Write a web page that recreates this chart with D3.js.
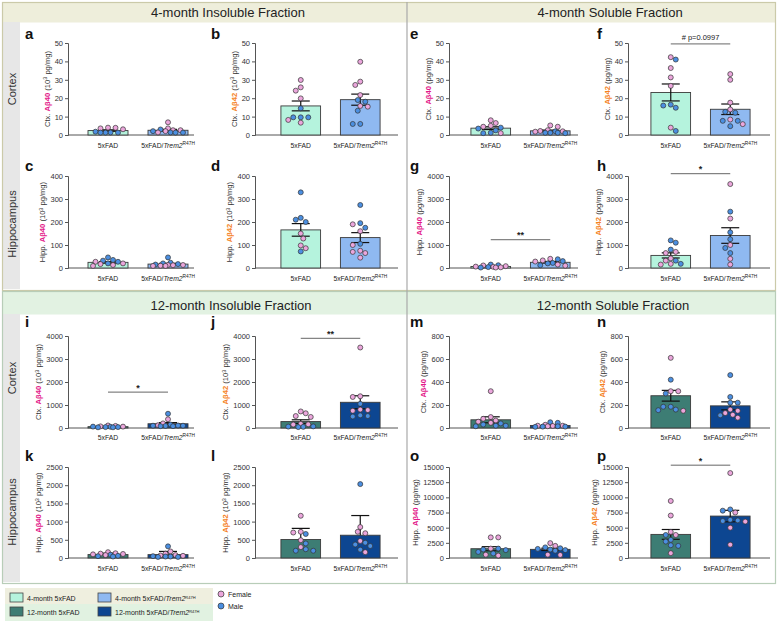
<!DOCTYPE html>
<html>
<head>
<meta charset="utf-8">
<script src="https://cdn.jsdelivr.net/npm/d3@7"></script>
<style>
  body { margin: 0; background: #fff; }
  svg { display: block; font-family: "Liberation Sans", Arial, sans-serif; }
</style>
</head>
<body>
<svg id="fig" width="778" height="621"></svg>
<script>
// ---- categories / ticks ----
var groups = ["5xFAD", "5xFAD/Trem2R47H"];
var ticks50 = [0, 10, 20, 30, 40, 50];
var ticks400 = [0, 100, 200, 300, 400];
var ticks4000 = [0, 1000, 2000, 3000, 4000];
var ticks800 = [0, 200, 400, 600, 800];
var ticks2500 = [0, 500, 1000, 1500, 2000, 2500];
var ticks15000 = [0, 2500, 5000, 7500, 10000, 12500, 15000];

// ---- per-animal values [value, sex] ----
var a5x = [[4.0,"F"],[3.1,"F"],[1.3,"M"],[1.4,"M"],[1.8,"M"],[1.3,"M"],[3.6,"F"],[3.9,"F"],[1.3,"M"]];
var aTr = [[3.6,"F"],[2.6,"F"],[1.4,"F"],[1.3,"M"],[2.1,"M"],[6.9,"F"],[3.0,"M"],[2.1,"F"],[1.4,"M"],[2.6,"F"],[1.3,"M"]];
var b5x = [[29.9,"F"],[25.9,"F"],[24.1,"F"],[19.9,"F"],[14.5,"M"],[9.6,"M"],[6.7,"F"],[9.6,"M"],[8.2,"F"],[9.6,"M"]];
var bTr = [[39.8,"F"],[29.0,"F"],[27.2,"F"],[21.7,"F"],[19.0,"M"],[18.1,"M"],[15.8,"F"],[13.2,"M"],[15.4,"F"],[6.0,"M"],[6.0,"M"]];
var c5x = [[46,"M"],[20,"M"],[32,"M"],[35,"M"],[13,"F"],[20,"F"],[27,"M"],[9,"F"],[27,"F"],[17,"F"]];
var cTr = [[13,"F"],[23,"M"],[12,"F"],[17,"M"],[46,"M"],[9,"F"],[20,"M"],[13,"F"],[9,"F"],[10,"F"],[15,"M"]];
var d5x = [[329,"M"],[218,"M"],[210,"M"],[200,"M"],[150,"F"],[128,"F"],[98,"F"],[86,"F"],[72,"M"]];
var dTr = [[274,"M"],[190,"F"],[195,"M"],[175,"M"],[160,"F"],[105,"M"],[75,"F"],[70,"F"],[65,"F"],[45,"F"],[100,"F"]];
var e5x = [[5.0,"F"],[8.0,"F"],[6.5,"F"],[3.5,"M"],[1.0,"M"],[4.5,"F"],[4.0,"M"],[1.0,"F"],[1.2,"M"],[2.5,"M"]];
var eTr = [[2.2,"F"],[2.6,"F"],[1.2,"M"],[1.2,"M"],[2.0,"F"],[4.5,"F"],[5.2,"F"],[2.0,"M"],[1.2,"M"],[1.8,"F"],[1.0,"M"]];
var f5x = [[42.3,"F"],[41.0,"M"],[36.4,"F"],[31.3,"F"],[26.7,"F"],[16.0,"M"],[16.5,"M"],[14.8,"M"],[4.0,"F"],[2.2,"M"]];
var fTr = [[33.1,"F"],[30.0,"F"],[17.6,"F"],[13.9,"F"],[12.6,"M"],[12.1,"M"],[8.4,"F"],[7.7,"M"],[7.7,"M"],[5.9,"F"],[4.8,"M"]];
var g5x = [[20,"M"],[150,"M"],[80,"F"],[110,"F"],[40,"M"],[120,"M"],[50,"F"],[30,"F"],[20,"F"],[60,"F"]];
var gTr = [[400,"F"],[120,"M"],[330,"F"],[220,"M"],[280,"F"],[200,"M"],[150,"F"],[380,"M"],[100,"F"],[300,"M"]];
var h5x = [[1200,"M"],[1100,"M"],[700,"F"],[800,"M"],[650,"F"],[320,"F"],[420,"F"],[320,"M"],[150,"F"],[180,"F"],[180,"M"]];
var hTr = [[3650,"F"],[2450,"M"],[2150,"F"],[1550,"M"],[1250,"M"],[1000,"F"],[870,"M"],[650,"M"],[400,"F"],[150,"F"]];
var i5x = [[110,"F"],[70,"F"],[90,"F"],[40,"M"],[30,"M"],[60,"F"],[50,"M"],[40,"M"],[30,"M"],[60,"M"]];
var iTr = [[380,"F"],[80,"M"],[100,"M"],[200,"F"],[150,"M"],[620,"M"],[100,"M"],[120,"F"],[110,"M"],[90,"M"],[80,"M"]];
var j5x = [[720,"F"],[640,"F"],[520,"F"],[480,"F"],[180,"F"],[160,"F"],[150,"F"],[60,"M"],[40,"M"],[50,"M"],[70,"M"]];
var jTr = [[3500,"F"],[1380,"F"],[1350,"F"],[1050,"M"],[800,"F"],[780,"F"],[750,"F"],[520,"M"],[500,"M"],[550,"M"]];
var k5x = [[80,"F"],[120,"F"],[100,"F"],[130,"F"],[40,"M"],[90,"M"],[110,"F"],[50,"M"],[160,"F"],[60,"M"]];
var kTr = [[80,"F"],[320,"M"],[180,"F"],[60,"F"],[40,"M"],[30,"M"],[70,"F"],[40,"M"],[50,"M"],[120,"F"],[30,"M"]];
var l5x = [[1160,"F"],[720,"F"],[700,"F"],[660,"M"],[490,"F"],[400,"M"],[300,"F"],[200,"M"],[200,"M"],[240,"M"]];
var lTr = [[2030,"M"],[850,"F"],[720,"F"],[680,"F"],[470,"F"],[420,"M"],[370,"M"],[330,"M"],[230,"M"],[160,"F"]];
var m5x = [[320,"F"],[80,"F"],[65,"F"],[40,"M"],[55,"F"],[95,"F"],[20,"M"],[30,"M"],[15,"M"],[20,"M"],[45,"F"]];
var mTr = [[12,"M"],[28,"F"],[18,"F"],[50,"M"],[45,"M"],[20,"F"],[15,"M"],[12,"M"],[10,"M"],[15,"F"],[20,"F"]];
var n5x = [[610,"F"],[420,"M"],[320,"F"],[320,"F"],[300,"M"],[155,"M"],[185,"M"],[185,"M"],[150,"F"],[160,"M"]];
var nTr = [[460,"M"],[270,"M"],[220,"M"],[220,"M"],[160,"F"],[130,"F"],[90,"F"],[110,"M"],[150,"F"],[115,"F"]];
var o5x = [[1550,"F"],[3400,"F"],[3400,"F"],[1000,"M"],[400,"F"],[1300,"M"],[750,"M"],[1550,"M"],[1400,"M"],[550,"F"]];
var oTr = [[1750,"M"],[2000,"F"],[1500,"M"],[2450,"F"],[1600,"M"],[550,"F"],[500,"F"],[1200,"M"],[1400,"M"],[1300,"M"]];
var p5x = [[9400,"F"],[7000,"F"],[4300,"F"],[3800,"F"],[3800,"M"],[3000,"M"],[2700,"M"],[2100,"M"],[2000,"M"],[800,"F"]];
var pTr = [[14000,"F"],[8000,"M"],[7800,"M"],[7500,"F"],[6300,"M"],[6100,"M"],[6200,"M"],[5000,"F"],[6000,"F"],[2200,"F"]];

// significance brackets: panel, level (data units), label
var sigs = [["f", 49.5, "# p=0.0997"], ["g", 1230, "**"], ["h", 4100, "*"],
            ["i", 1560, "*"], ["j", 3900, "**"], ["p", 15300, "*"]];

// ---- layout ----
var colBars = [[108, 168], [301, 360], [491, 550], [671, 730]];
var colAxis = [68, 255, 449, 628];
var colAxisEnd = [194, 398, 578, 770];
var colLetter = [25, 211, 410, 597];
var rowY = [[43, 135], [176, 268], [336, 428], [467, 558]];
var rowLetter = [39, 171, 327, 461];
var rowXlab = [148, 281, 440, 571];

var barFill = { m4: ["#b5f3dd", "#8fb9f1"], m12: ["#3d7d74", "#0d4691"] };
var sexFill = { F: "#eba6dc", M: "#4b8fe1" };
var pepColor = { "40": "#e3198a", "42": "#f5821f" };

var panels = [
  { id: "a", row: 0, col: 0, age: "m4", ticks: ticks50, reg: "Ctx.", pep: "40", e3: true, pts: [a5x, aTr], err: "sem" },
  { id: "b", row: 0, col: 1, age: "m4", ticks: ticks50, reg: "Ctx.", pep: "42", e3: true, pts: [b5x, bTr], err: "sem" },
  { id: "c", row: 1, col: 0, age: "m4", ticks: ticks400, reg: "Hipp.", pep: "40", e3: true, pts: [c5x, cTr], err: "sem" },
  { id: "d", row: 1, col: 1, age: "m4", ticks: ticks400, reg: "Hipp.", pep: "42", e3: true, pts: [d5x, dTr], err: "sem" },
  { id: "e", row: 0, col: 2, age: "m4", ticks: ticks50, reg: "Ctx.", pep: "40", e3: false, pts: [e5x, eTr], err: "sem" },
  { id: "f", row: 0, col: 3, age: "m4", ticks: ticks50, reg: "Ctx.", pep: "42", e3: false, pts: [f5x, fTr], err: "sem" },
  { id: "g", row: 1, col: 2, age: "m4", ticks: ticks4000, reg: "Hipp.", pep: "40", e3: false, pts: [g5x, gTr], err: "sem" },
  { id: "h", row: 1, col: 3, age: "m4", ticks: ticks4000, reg: "Hipp.", pep: "42", e3: false, pts: [h5x, hTr], err: "sem" },
  { id: "i", row: 2, col: 0, age: "m12", ticks: ticks4000, reg: "Ctx.", pep: "40", e3: true, pts: [i5x, iTr], err: "sem" },
  { id: "j", row: 2, col: 1, age: "m12", ticks: ticks4000, reg: "Ctx.", pep: "42", e3: true, pts: [j5x, jTr], err: "sem" },
  { id: "k", row: 3, col: 0, age: "m12", ticks: ticks2500, reg: "Hipp.", pep: "40", e3: true, pts: [k5x, kTr], err: "sdup" },
  { id: "l", row: 3, col: 1, age: "m12", ticks: ticks2500, reg: "Hipp.", pep: "42", e3: true, pts: [l5x, lTr], err: "sdup" },
  { id: "m", row: 2, col: 2, age: "m12", ticks: ticks800, reg: "Ctx.", pep: "40", e3: false, pts: [m5x, mTr], err: "sem" },
  { id: "n", row: 2, col: 3, age: "m12", ticks: ticks800, reg: "Ctx.", pep: "42", e3: false, pts: [n5x, nTr], err: "sem" },
  { id: "o", row: 3, col: 2, age: "m12", ticks: ticks15000, reg: "Hipp.", pep: "40", e3: false, pts: [o5x, oTr], err: "sem" },
  { id: "p", row: 3, col: 3, age: "m12", ticks: ticks15000, reg: "Hipp.", pep: "42", e3: false, pts: [p5x, pTr], err: "sem" }
];

var svg = d3.select("#fig");

// ---- background boxes ----
function section(y0, y1, hy, head, border) {
  svg.append("rect").attr("x", 2.5).attr("y", y0 + 0.5).attr("width", 773).attr("height", hy - y0)
    .attr("fill", head);
  svg.append("rect").attr("x", 3).attr("y", hy).attr("width", 17).attr("height", y1 - hy - 1)
    .attr("fill", "#e7e7e7");
  svg.append("rect").attr("x", 2.5).attr("y", y0 + 0.5).attr("width", 773).attr("height", y1 - y0)
    .attr("fill", "none").attr("stroke", border).attr("stroke-width", 1.2);
}
section(2, 290, 22, "#eeeedb", "#cbcaa9");
section(291, 583, 314, "#e2f2e2", "#b8cdb8");
svg.append("line").attr("x1", 407).attr("x2", 407).attr("y1", 2).attr("y2", 583)
  .attr("stroke", "#a9a9a9").attr("stroke-width", 1.2);

var titles = [["4-month Insoluble Fraction", 228, 17], ["4-month Soluble Fraction", 610, 17],
              ["12-month Insoluble Fraction", 231, 310], ["12-month Soluble Fraction", 613, 310]];
titles.forEach(function(t) {
  svg.append("text").attr("x", t[1]).attr("y", t[2]).attr("text-anchor", "middle")
    .attr("font-size", 13).attr("fill", "#222").text(t[0]);
});

var sides = [["Cortex", 89], ["Hippocampus", 224], ["Cortex", 378], ["Hippocampus", 512]];
sides.forEach(function(s) {
  svg.append("text").attr("transform", "translate(16," + s[1] + ") rotate(-90)")
    .attr("text-anchor", "middle").attr("font-size", 11).attr("fill", "#333").text(s[0]);
});

// ---- beeswarm placement ----
function swarm(pts, cx, y, r, lim) {
  var placed = [];
  var items = pts.map(function(p) { return { v: p[0], s: p[1], py: y(p[0]) }; })
    .sort(function(a, b) { return a.py - b.py; });
  var minD = 2 * r + 0.3;
  items.forEach(function(it, n) {
    var chosen = null, bestOv = Infinity, bestOff = 0;
    for (var k = 0; k <= Math.floor(lim / r); k++) {
      var cands = k === 0 ? [0] : (n % 2 ? [k * r, -k * r] : [-k * r, k * r]);
      for (var c = 0; c < cands.length; c++) {
        var off = cands[c], ov = 0;
        placed.forEach(function(o) {
          var d = Math.hypot(o.px - (cx + off), o.py - it.py);
          if (d < minD) ov = Math.max(ov, minD - d);
        });
        if (ov === 0) { chosen = off; break; }
        if (ov < bestOv) { bestOv = ov; bestOff = off; }
      }
      if (chosen !== null) break;
    }
    it.px = cx + (chosen !== null ? chosen : bestOff);
    placed.push(it);
  });
  return placed;
}

// ---- panels ----
var byId = {};
panels.forEach(function(p) {
  var ax = colAxis[p.col], ry = rowY[p.row], cb = colBars[p.col];
  var x = d3.scaleBand().domain(groups).range([cb[0] - 30, cb[1] + 30])
    .paddingInner(1 / 3).paddingOuter(1 / 6);
  var y = d3.scaleLinear().domain([0, p.ticks[p.ticks.length - 1]]).range([ry[1], ry[0]]);
  byId[p.id] = { x: x, y: y };
  var g = svg.append("g");

  // letter
  g.append("text").attr("x", colLetter[p.col]).attr("y", rowLetter[p.row])
    .attr("font-size", 15).attr("font-weight", "bold").attr("fill", "#111").text(p.id);

  // y axis
  var yAxis = g.append("g").attr("transform", "translate(" + ax + ",0)")
    .call(d3.axisLeft(y).tickValues(p.ticks).tickSize(3).tickPadding(2).tickFormat(d3.format("d")));
  yAxis.select(".domain").attr("stroke", "#555");
  yAxis.selectAll(".tick line").attr("stroke", "#555");
  yAxis.selectAll(".tick text").attr("font-size", 7.5).attr("fill", "#333")
    .attr("font-family", "Liberation Sans, Arial, sans-serif");
  var bb = yAxis.node().getBBox();

  // x baseline
  g.append("line").attr("x1", ax).attr("x2", colAxisEnd[p.col]).attr("y1", ry[1]).attr("y2", ry[1])
    .attr("stroke", "#555");

  // y title
  var t = g.append("text").attr("text-anchor", "middle").attr("font-size", 7.6).attr("fill", "#333")
    .attr("transform", "translate(" + (ax + bb.x - 5) + "," + ((ry[0] + ry[1]) / 2) + ") rotate(-90)");
  t.append("tspan").text(p.reg + " ");
  t.append("tspan").attr("font-weight", "bold").attr("fill", pepColor[p.pep]).text("A\u03b2" + p.pep);
  if (p.e3) {
    t.append("tspan").text(" (10");
    t.append("tspan").attr("font-size", 5.4).attr("dy", -2.8).text("3");
    t.append("tspan").attr("dy", 2.8).text(" pg/mg)");
  } else {
    t.append("tspan").text(" (pg/mg)");
  }

  // bars, error bars, dots
  groups.forEach(function(grp, gi) {
    var vals = p.pts[gi].map(function(d) { return d[0]; });
    var m = d3.mean(vals), sd = d3.deviation(vals);
    var e = p.err === "sem" ? sd / Math.sqrt(vals.length) : sd;
    var cx = x(grp) + x.bandwidth() / 2;
    g.append("rect").attr("x", x(grp)).attr("y", y(m)).attr("width", x.bandwidth())
      .attr("height", y(0) - y(m)).attr("fill", barFill[p.age][gi])
      .attr("stroke", "#3a3a3a").attr("stroke-width", 0.9);
    var lo = p.err === "sem" ? m - e : m;
    var eg = g.append("g").attr("stroke", "#111").attr("stroke-width", 1.2);
    eg.append("line").attr("x1", cx).attr("x2", cx).attr("y1", y(lo)).attr("y2", y(m + e));
    eg.append("line").attr("x1", cx - 9).attr("x2", cx + 9).attr("y1", y(m + e)).attr("y2", y(m + e));
    if (p.err === "sem")
      eg.append("line").attr("x1", cx - 9).attr("x2", cx + 9).attr("y1", y(lo)).attr("y2", y(lo));

    var dots = swarm(p.pts[gi], cx, y, 2.5, 17);
    g.selectAll(null).data(dots).enter().append("circle")
      .attr("cx", function(d) { return d.px; }).attr("cy", function(d) { return d.py; })
      .attr("r", 2.5).attr("fill", function(d) { return sexFill[d.s]; })
      .attr("stroke", "#333").attr("stroke-width", 0.7);

    // x label
    var xl = g.append("text").attr("x", cx).attr("y", rowXlab[p.row]).attr("text-anchor", "middle")
      .attr("font-size", 6.8).attr("fill", "#222");
    if (gi === 0) {
      xl.text(grp);
    } else {
      xl.append("tspan").text("5xFAD/");
      xl.append("tspan").attr("font-style", "italic").text("Trem2");
      xl.append("tspan").attr("font-size", 4.8).attr("dy", -3).text("R47H");
    }
  });
});

// ---- significance brackets ----
sigs.forEach(function(s) {
  var sc = byId[s[0]];
  var x1 = sc.x(groups[0]) + sc.x.bandwidth() / 2, x2 = sc.x(groups[1]) + sc.x.bandwidth() / 2;
  var ly = sc.y(s[1]);
  svg.append("line").attr("x1", x1).attr("x2", x2).attr("y1", ly).attr("y2", ly)
    .attr("stroke", "#555").attr("stroke-width", 0.9);
  var star = s[2].indexOf("p=") < 0;
  svg.append("text").attr("x", (x1 + x2) / 2).attr("y", star ? ly - 1.5 : ly - 4)
    .attr("text-anchor", "middle").attr("font-size", star ? 9 : 7.5)
    .attr("font-weight", star ? "bold" : "normal").attr("fill", "#222").text(s[2]);
});

// ---- legend ----
var legItems = [["4-month ", "m4", 0, 10, 593], ["12-month ", "m12", 0, 10, 607],
                ["4-month ", "m4", 1, 98, 593], ["12-month ", "m12", 1, 98, 607]];
svg.append("rect").attr("x", 5).attr("y", 588).attr("width", 208).attr("height", 16).attr("fill", "#efefdf");
svg.append("rect").attr("x", 5).attr("y", 604).attr("width", 208).attr("height", 17).attr("fill", "#e1f2e1");
legItems.forEach(function(l) {
  svg.append("rect").attr("x", l[3]).attr("y", l[4]).attr("width", 13).attr("height", 9)
    .attr("fill", barFill[l[1]][l[2]]).attr("stroke", "#444").attr("stroke-width", 0.8);
  var tx = svg.append("text").attr("x", l[3] + 17).attr("y", l[4] + 8).attr("font-size", 7).attr("fill", "#222");
  tx.append("tspan").text(l[0] + "5xFAD");
  if (l[2] === 1) {
    tx.append("tspan").text("/");
    tx.append("tspan").attr("font-style", "italic").text("Trem2");
    tx.append("tspan").attr("font-size", 4).attr("dy", -2.5).text("R47H");
  }
});
[["Female", "F", 594], ["Male", "M", 606]].forEach(function(s) {
  svg.append("circle").attr("cx", 221).attr("cy", s[2]).attr("r", 3)
    .attr("fill", sexFill[s[1]]).attr("stroke", "#333").attr("stroke-width", 0.7);
  svg.append("text").attr("x", 228).attr("y", s[2] + 2.5).attr("font-size", 7).attr("fill", "#222").text(s[0]);
});
</script>
</body>
</html>
